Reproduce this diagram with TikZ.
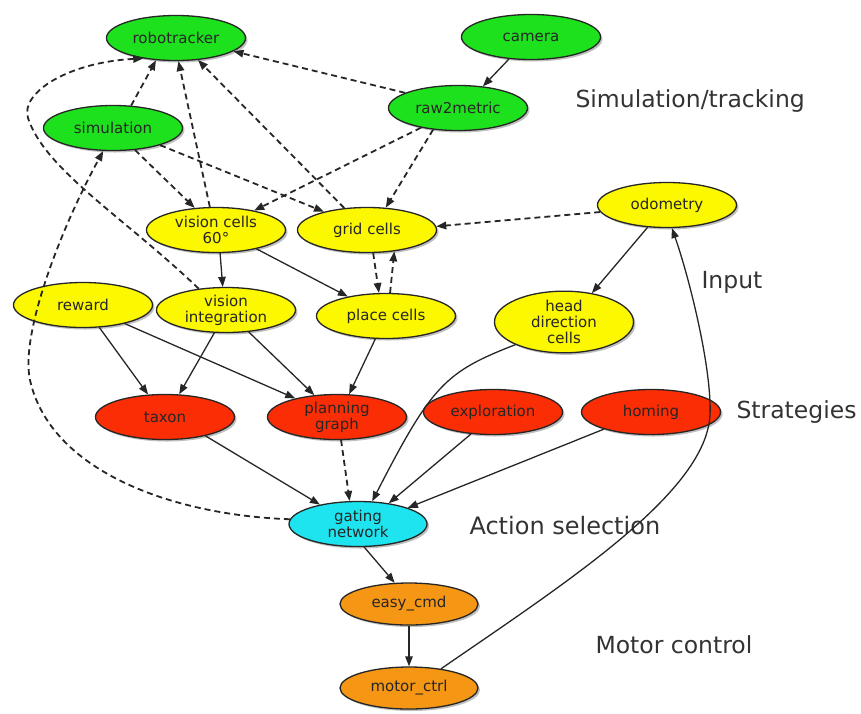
\documentclass[tikz,border=0pt]{standalone}
\usepackage{fontspec}
\setmainfont{DejaVu Sans}
\usetikzlibrary{shapes.geometric,arrows.meta,shadows}
\definecolor{gnode}{RGB}{30,225,30}
\definecolor{ynode}{RGB}{252,248,0}
\definecolor{rnode}{RGB}{250,45,5}
\definecolor{cnode}{RGB}{30,228,240}
\definecolor{onode}{RGB}{245,150,20}
\tikzset{
  base/.style={ellipse, draw=black!85, line width=1.3pt, inner sep=0pt,
    minimum width=139pt, minimum height=45pt,
    font=\fontsize{15}{16}\selectfont, text=black!85, align=center,
    drop shadow={shadow xshift=2pt, shadow yshift=-2pt, opacity=0.25, fill=black}},
  gn/.style={base, fill=gnode},
  yn/.style={base, fill=ynode},
  rn/.style={base, fill=rnode},
  cn/.style={base, fill=cnode},
  on/.style={base, fill=onode},
  edge/.style={line width=1.3pt, draw=black!85, -{Triangle[length=10pt,width=7.5pt]}},
  dedge/.style={edge, line width=1.8pt, dash pattern=on 6pt off 4pt},
  lab/.style={anchor=west, font=\fontsize{23.5}{26}\selectfont, text=black!80},
}
\begin{document}
\begin{tikzpicture}[x=1pt,y=-1pt]
\useasboundingbox (0,0) rectangle (861,713);
% nodes
\node[gn] (rt) at (176,38) {robotracker};
\node[gn] (cam) at (531,37) {camera};
\node[gn] (raw) at (458,108) {raw2metric};
\node[gn] (sim) at (113,128) {simulation};
\node[yn] (vc) at (216,230) {vision cells\\60°};
\node[yn] (gc) at (367,230) {grid cells};
\node[yn] (odo) at (667,205) {odometry};
\node[yn] (rew) at (83,305) {reward};
\node[yn] (vi) at (226,310) {vision\\integration};
\node[yn] (pc) at (386,316) {place cells};
\node[yn, minimum height=56pt] (hd) at (564,322) {head\\direction\\cells};
\node[rn] (tax) at (165,417) {taxon};
\node[rn] (pg) at (337,417) {planning\\graph};
\node[rn] (exp) at (493,412) {exploration};
\node[rn] (hom) at (651,412) {homing};
\node[cn, minimum width=138pt] (gate) at (358,524) {gating\\network};
\node[on, minimum width=138pt, minimum height=42pt] (easy) at (409,604) {easy\_cmd};
\node[on, minimum width=138pt, minimum height=42pt] (motor) at (409,688) {motor\_ctrl};
% labels
\node[lab] (l1) at (572,101) {Simulation/tracking};
\node[lab] (l2) at (698,282) {Input};
\node[lab] (l3) at (733,412) {Strategies};
\node[lab, font=\fontsize{24}{26}\selectfont] (l4) at (466,526) {Action selection};
\node[lab] (l5) at (592,645) {Motor control};
% edges
\draw[dedge] (raw.164) -- (rt.347);
\draw[edge] (cam.225) -- (raw.41);
\draw[dedge] (sim.51) -- (rt.228);
\draw[dedge] (vc.105) -- (rt.276);
\draw[dedge] (gc.136) -- (rt.315);
\draw[dedge] (vi.142) .. controls (125,218) and (45,170) .. (28,118) .. controls (20,92) and (70,62) .. (rt.212);
\draw[dedge] (gate.176) .. controls (170,515) and (50,470) .. (30,380) .. controls (20,335) and (60,230) .. (sim.247);
\draw[dedge] (sim.315) -- (vc.134);
\draw[dedge] (sim.340) -- (gc.157);
\draw[dedge] (raw.208) -- (vc.27);
\draw[dedge] (raw.221) -- (gc.50);
\draw[dedge] (odo.186) -- (gc.3);
\draw[dedge] (gc.285) -- (pc.107);
\draw[dedge] (pc.80) -- (gc.322);
\draw[edge] (vc.280) -- (vi.98);
\draw[edge] (vc.335) -- (pc.153);
\draw[edge] (odo.229) -- (hd.46);
\draw[edge] (motor.31) .. controls (570,580) and (706,492) .. (710,415) .. controls (712,370) and (690,280) .. (odo.282);
\draw[edge] (rew.306) -- (tax.127);
\draw[edge] (rew.336) -- (pg.156);
\draw[edge] (vi.243) -- (tax.58);
\draw[edge] (vi.316) -- (pg.136);
\draw[edge] (pc.245) -- (pg.62);
\draw[edge] (tax.335) -- (gate.153);
\draw[dedge] (pg.280) -- (gate.110);
\draw[edge] (hd.205) .. controls (445,372) and (432,385) .. (gate.58);
\draw[edge] (exp.225) -- (gate.34);
\draw[edge] (hom.200) -- (gate.18);
\draw[edge] (gate.285) -- (easy.124);
\draw[edge] (easy) -- (motor);
\end{tikzpicture}
\end{document}
